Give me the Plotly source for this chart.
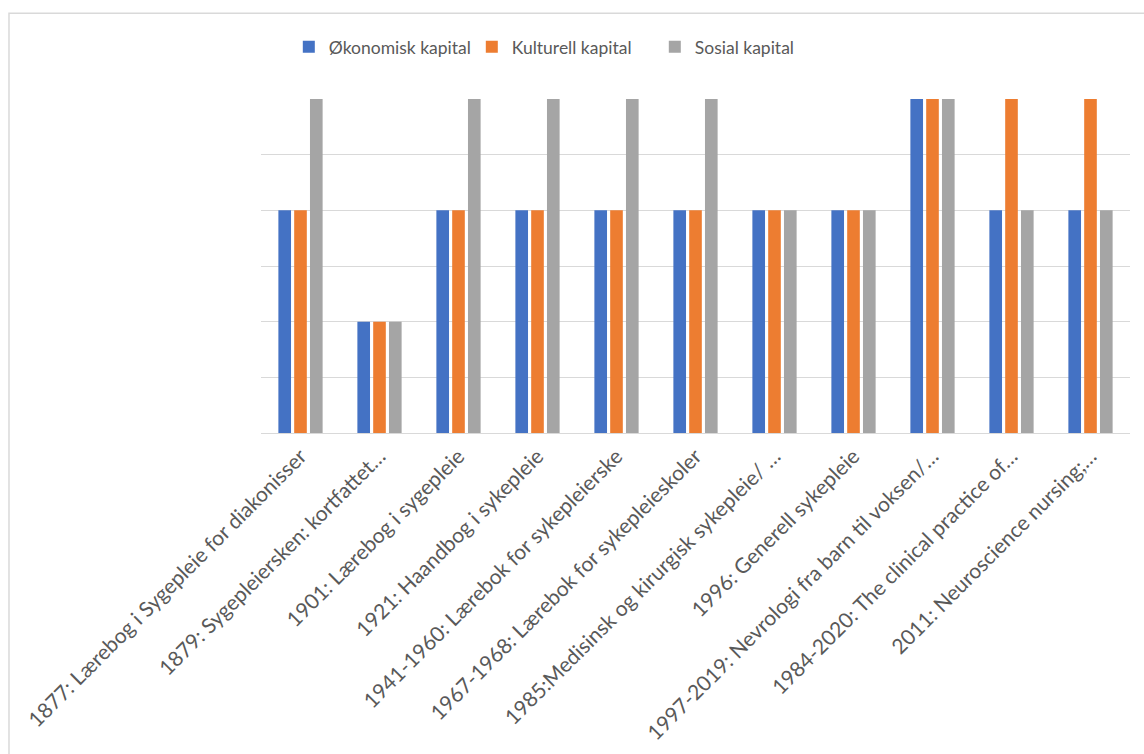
import plotly.graph_objects as go

categories = [
    "1877: Lærebog i Sygepleie for diakonisser",
    "1879: Sygepleiersken: kortfattet…",
    "1901: Lærebog i sygepleie",
    "1921: Haandbog i sykepleie",
    "1941-1960: Lærebok for sykepleierske",
    "1967-1968: Lærebok for sykepleieskoler",
    "1985:Medisinsk og kirurgisk sykepleie/ …",
    "1996: Generell sykepleie",
    "1997-2019: Nevrologi fra barn til voksen/…",
    "1984-2020: The clinical practice of…",
    "2011: Neuroscience nursing;…",
]
okonomisk = [4, 2, 4, 4, 4, 4, 4, 4, 6, 4, 4]
kulturell = [4, 2, 4, 4, 4, 4, 4, 4, 6, 6, 6]
sosial = [6, 2, 6, 6, 6, 6, 4, 4, 6, 4, 4]

series_names = ["Økonomisk kapital", "Kulturell kapital", "Sosial kapital"]
colors = ["#4472C4", "#ED7D31", "#A5A5A5"]

FONT = "Lato"
fig = go.Figure()
for name, vals, col in zip(series_names, [okonomisk, kulturell, sosial], colors):
    fig.add_trace(go.Bar(x=categories, y=vals, name=name,
                         marker=dict(color=col, line=dict(width=0))))

fig.update_layout(
    width=1144, height=754,
    margin=dict(l=261, r=14, t=99, b=321),
    paper_bgcolor="white", plot_bgcolor="white",
    barmode="group", bargap=0.4, bargroupgap=0.2,
    font=dict(family=FONT, size=18, color="#595959"),
    legend=dict(orientation="h", x=0.032, y=1.156, xanchor="left", yanchor="middle",
                font=dict(family=FONT, size=17.5, color="#595959"),
                entrywidth=138, entrywidthmode="pixels",
                itemwidth=30, traceorder="normal"),
    xaxis=dict(tickangle=-45, showgrid=False, showline=False, ticks="",
               ticklabelstandoff=6,
               tickfont=dict(family=FONT, size=21, color="#595959"), automargin=False),
    yaxis=dict(range=[0, 6], dtick=1, showgrid=True, gridcolor="#D9D9D9", gridwidth=1,
               zeroline=True, zerolinecolor="#D9D9D9", zerolinewidth=1,
               showticklabels=False, ticks="", showline=False, automargin=False),
    shapes=[dict(type="rect", xref="paper", yref="paper",
                 x0=-0.29, x1=1.2, y0=-1.5, y1=1.257,
                 line=dict(color="#D9D9D9", width=1.5), fillcolor="rgba(0,0,0,0)",
                 layer="below")],
)

fig.write_html("out.html")
